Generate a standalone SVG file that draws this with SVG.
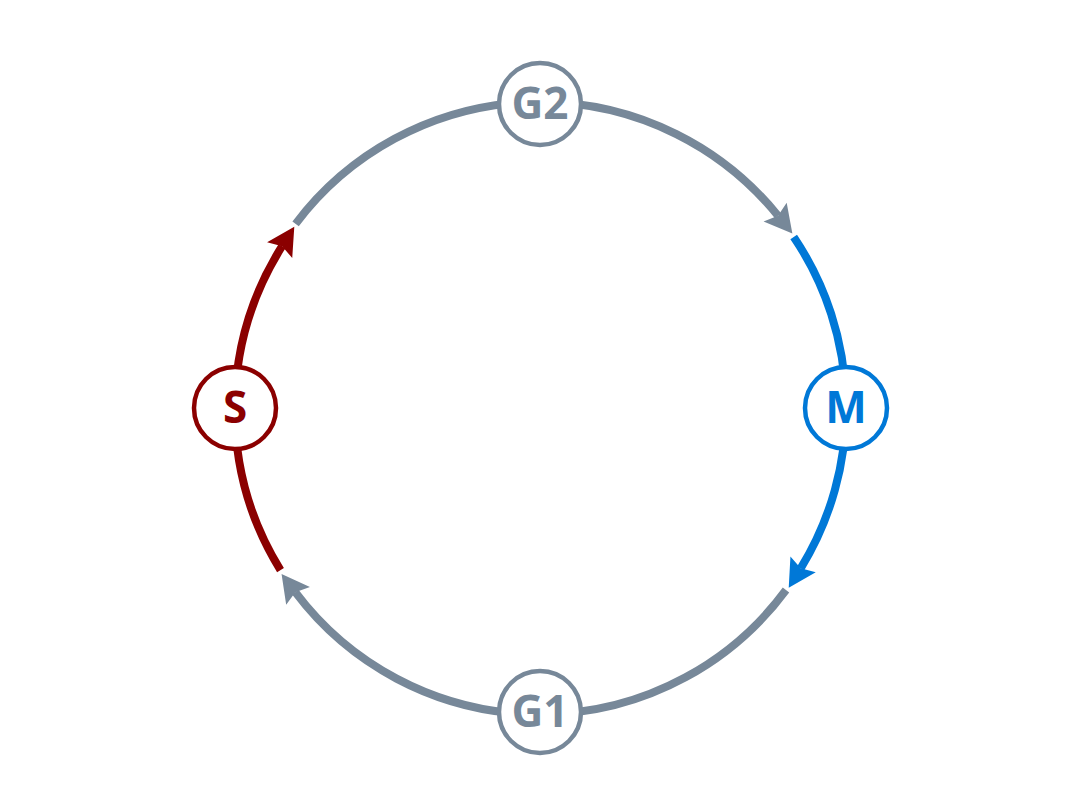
<svg xmlns="http://www.w3.org/2000/svg" width="1080" height="810" viewBox="0 0 1080 810">
<style>
.arc{fill:none;stroke-width:8;stroke-linecap:butt}
.node circle{fill:#fff;stroke-width:4.5}
.node text{font-family:"Open Sans","Liberation Sans",sans-serif;font-weight:700;font-size:44px;text-anchor:middle}
.gray{stroke:#778899}
.red{stroke:#8B0000}
.blue{stroke:#0078D7}
</style>
<defs>
<marker id="ah-gray" markerUnits="userSpaceOnUse" markerWidth="32" markerHeight="32" viewBox="0 -14 26 28" refX="4" refY="0" orient="auto"><path d="M0,-13 L24,0 L0,13 L4,0 Z" fill="#778899"/></marker>
<marker id="ah-red" markerUnits="userSpaceOnUse" markerWidth="32" markerHeight="32" viewBox="0 -14 26 28" refX="4" refY="0" orient="auto"><path d="M0,-13 L24,0 L0,13 L4,0 Z" fill="#8B0000"/></marker>
<marker id="ah-blue" markerUnits="userSpaceOnUse" markerWidth="32" markerHeight="32" viewBox="0 -14 26 28" refX="4" refY="0" orient="auto"><path d="M0,-13 L24,0 L0,13 L4,0 Z" fill="#0078D7"/></marker>
</defs>
<g id="connectors">
<path class="arc gray" d="M295.6,223.8 A306,306 0 0 1 778.0,215.7" marker-end="url(#ah-gray)"/>
<path class="arc blue" d="M793.7,236.9 A306,306 0 0 1 800.7,568.3" marker-end="url(#ah-blue)"/>
<path class="arc gray" d="M786.0,590.0 A306,306 0 0 1 295.3,592.2" marker-end="url(#ah-gray)"/>
<path class="arc red" d="M280.5,570.2 A306,306 0 0 1 282.1,246.2" marker-end="url(#ah-red)"/>
</g>
<g id="node-G2" class="node"><circle cx="540" cy="104" r="41" stroke="#778899"/><text x="540" y="119" fill="#778899">G2</text></g>
<g id="node-M" class="node"><circle cx="846" cy="408" r="41" stroke="#0078D7"/><text x="846" y="423" fill="#0078D7">M</text></g>
<g id="node-G1" class="node"><circle cx="540" cy="712" r="41" stroke="#778899"/><text x="540" y="727" fill="#778899">G1</text></g>
<g id="node-S" class="node"><circle cx="235" cy="408" r="41" stroke="#8B0000"/><text x="235" y="423" fill="#8B0000">S</text></g>
</svg>
